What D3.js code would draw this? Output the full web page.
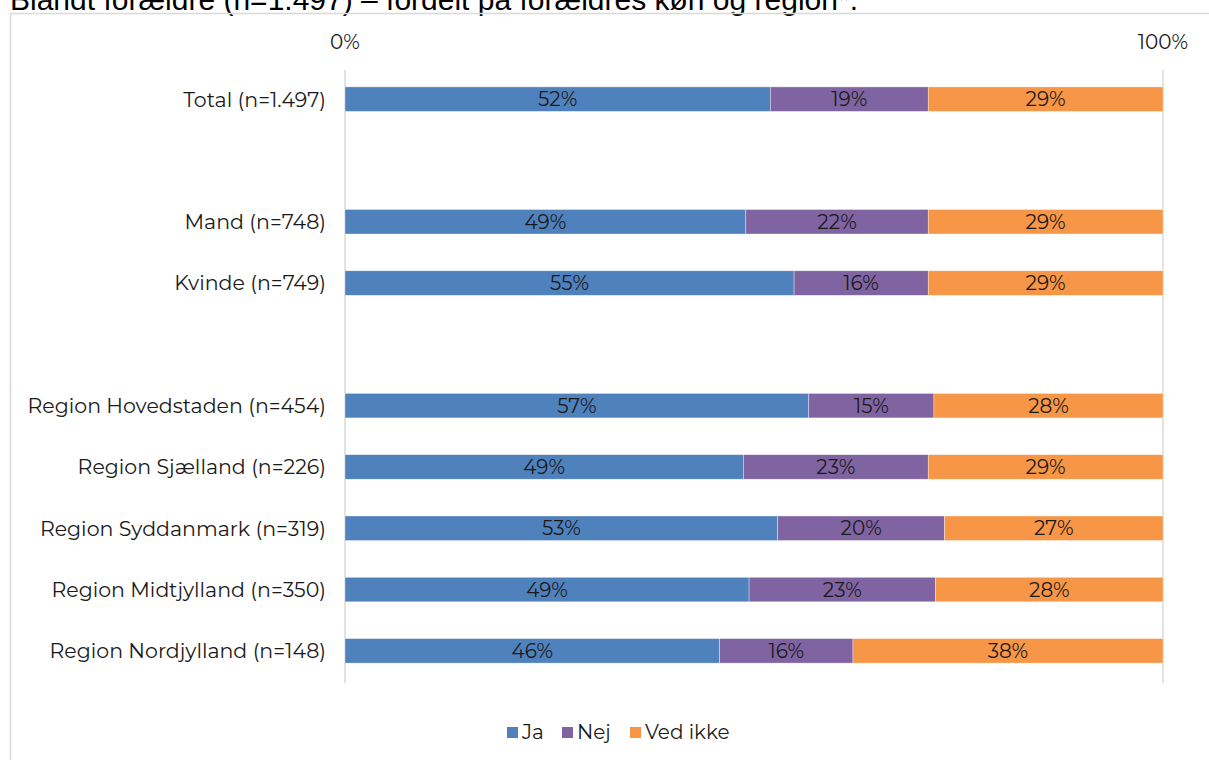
<!DOCTYPE html>
<html><head><meta charset="utf-8">
<script src="https://cdn.jsdelivr.net/npm/d3@7"></script>
<style>body{margin:0;background:#fff}svg{display:block}</style>
</head><body>
<script>
const categories = ["Total (n=1.497)", "gap1", "Mand (n=748)", "Kvinde (n=749)", "gap2",
  "Region Hovedstaden (n=454)", "Region Sjælland (n=226)", "Region Syddanmark (n=319)",
  "Region Midtjylland (n=350)", "Region Nordjylland (n=148)"];
const seriesNames = ["Ja", "Nej", "Ved ikke"];
const ja      = [52.0, null, 49.0, 54.9, null, 56.7, 48.7, 52.9, 49.4, 45.8];
const nej     = [19.3, null, 22.3, 16.4, null, 15.3, 22.6, 20.4, 22.8, 16.3];
const vedIkke = [28.7, null, 28.7, 28.7, null, 28.0, 28.7, 26.7, 27.8, 37.9];
const tickValues = [0, 100];
const tickLabels = ["0%", "100%"];
const title = "Blandt forældre (n=1.497) – fordelt på forældres køn og region*.";

const colors = ["#4F81BD", "#8064A2", "#F79646"];
const W = 1209, H = 760;
const font = "Montserrat, 'Open Sans', sans-serif";

const svg = d3.select("body").append("svg").attr("width", W).attr("height", H);

// title (cut off at top, as in the reference)
svg.append("text").attr("x", 10).attr("y", 10)
  .attr("font-family", "'Liberation Sans', Arial, sans-serif").attr("font-size", 30)
  .attr("fill", "#000").text(title);

// frame
svg.append("rect").attr("x", 10.5).attr("y", 13.5).attr("width", W + 20).attr("height", H + 20)
  .attr("fill", "none").attr("stroke", "#d9d9d9").attr("stroke-width", 1.5);

const x = d3.scaleLinear().domain([0, 100]).range([345, 1163]);
const y = d3.scaleBand().domain(categories).range([68.5, 681.5]).paddingInner(0.6).paddingOuter(0.3);

// gridlines
svg.append("g").selectAll("line").data(tickValues).join("line")
  .attr("x1", d => x(d)).attr("x2", d => x(d)).attr("y1", 70).attr("y2", 683)
  .attr("stroke", "#d9d9d9").attr("stroke-width", 1.5);

// top axis labels
svg.append("g").selectAll("text").data(tickValues).join("text")
  .attr("x", d => x(d)).attr("y", 49).attr("text-anchor", "middle")
  .attr("font-family", font).attr("font-size", 20).attr("fill", "#1a1a1a")
  .text((d, i) => tickLabels[i]);

const rows = categories.map((c, i) => ({ c, vals: [ja[i], nej[i], vedIkke[i]] }))
  .filter(r => r.vals[0] != null);

const stack = d3.stack().keys([0, 1, 2]).value((r, k) => r.vals[k]);
const layers = stack(rows);

const g = svg.append("g");
layers.forEach((layer, k) => {
  const lg = g.append("g");
  lg.selectAll("rect").data(layer).join("rect")
    .attr("x", d => x(d[0])).attr("width", d => x(d[1]) - x(d[0]))
    .attr("y", d => y(d.data.c)).attr("height", y.bandwidth())
    .attr("fill", colors[k]).attr("stroke", "#fff").attr("stroke-width", 0.6).attr("stroke-opacity", 0.6);
  lg.selectAll("text").data(layer).join("text")
    .attr("x", d => (x(d[0]) + x(d[1])) / 2).attr("y", d => y(d.data.c) + y.bandwidth() / 2)
    .attr("dy", "0.36em").attr("text-anchor", "middle")
    .attr("font-family", font).attr("font-size", 20).attr("fill", "#1a1a1a")
    .text(d => Math.round(d[1] - d[0]) + "%");
});

// category labels
svg.append("g").selectAll("text").data(rows).join("text")
  .attr("x", 326).attr("y", d => y(d.c) + y.bandwidth() / 2).attr("dy", "0.36em")
  .attr("text-anchor", "end").attr("font-family", font).attr("font-size", 20.5).attr("fill", "#1a1a1a")
  .text(d => d.c);

// legend
const legX = [507, 562, 630];
const leg = svg.append("g");
seriesNames.forEach((s, i) => {
  leg.append("rect").attr("x", legX[i]).attr("y", 727).attr("width", 11).attr("height", 11).attr("fill", colors[i]);
  leg.append("text").attr("x", legX[i] + 15).attr("y", 732).attr("dy", "0.36em")
    .attr("font-family", font).attr("font-size", 20).attr("fill", "#1a1a1a").text(s);
});
</script>
</body></html>
